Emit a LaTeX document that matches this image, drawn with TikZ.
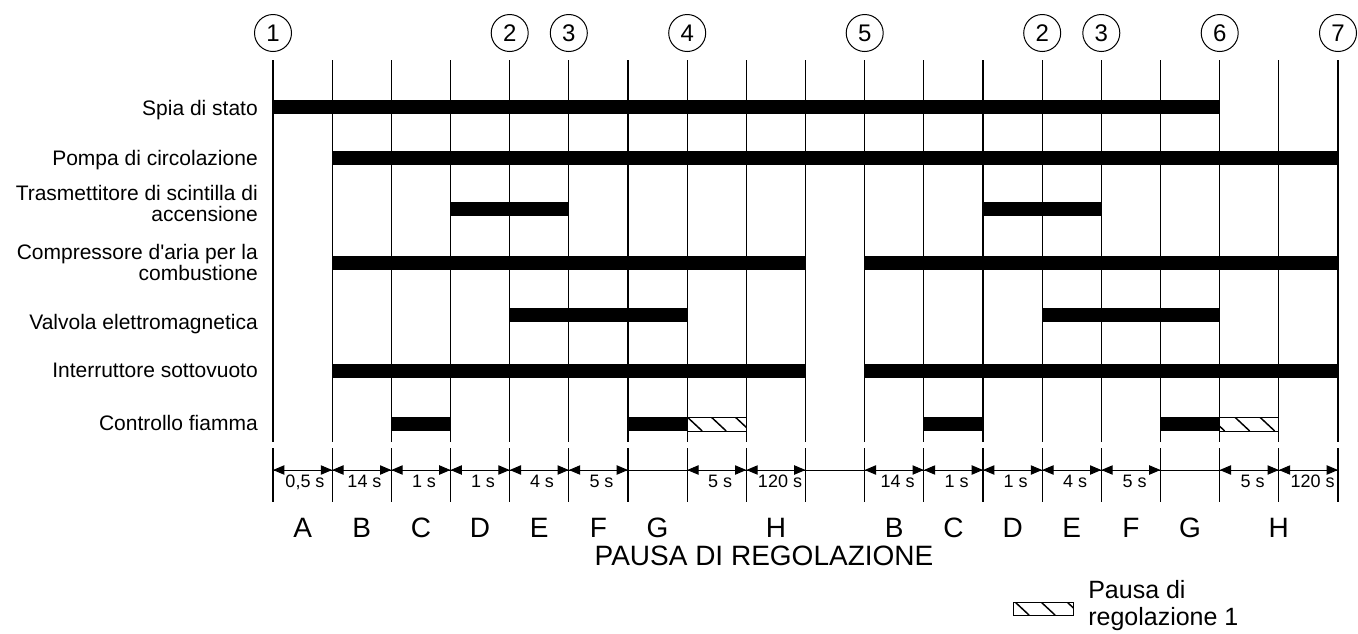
\documentclass[tikz,border=0pt]{standalone}
\usepackage{fontspec}
\setmainfont{Liberation Sans}
\usetikzlibrary{arrows.meta}

\begin{document}
\begin{tikzpicture}[x=0.75pt,y=-0.75pt,every node/.style={inner sep=0pt},
  rowlabel/.style={anchor=base east,align=right,font=\fontsize{15.75}{15.75}\selectfont},
  numcircle/.style={draw,circle,line width=.75pt,minimum size=27.75pt,font=\fontsize{18}{18}\selectfont},
  dur/.style={anchor=base,font=\fontsize{13.5}{13.5}\selectfont},
  phase/.style={anchor=base,font=\fontsize{21}{21}\selectfont},
  onbar/.style={line width=10.5pt},
  hatch/.style={line width=1.1pt},
  dim/.style={line width=.75pt,{Triangle[length=8.5pt,width=7pt]}-{Triangle[length=8.5pt,width=7pt]}}]
\useasboundingbox (0,0) rectangle (1358,633);
% time grid
\foreach \i in {0,...,18}{
  \coordinate (t\i) at ({273+59.1667*\i},60);
  \coordinate (m\i) at ({273+59.1667*\i},442);
  \coordinate (u\i) at ({273+59.1667*\i},448);
  \coordinate (b\i) at ({273+59.1667*\i},502);
  \coordinate (d\i) at ({273+59.1667*\i},470);
  \draw[line width=.9pt] (t\i)--(m\i) (u\i)--(b\i);
}
\coordinate (r1) at (0,107);
\coordinate (r2) at (0,158);
\coordinate (r3) at (0,208.5);
\coordinate (r4) at (0,263);
\coordinate (r5) at (0,315);
\coordinate (r6) at (0,370.5);
\coordinate (r7) at (0,424);
% switching states
\draw[onbar] (t0|-r1)--(t16|-r1);
\draw[onbar] (t1|-r2)--(t18|-r2);
\draw[onbar] (t3|-r3)--(t5|-r3); \draw[onbar] (t12|-r3)--(t14|-r3);
\draw[onbar] (t1|-r4)--(t9|-r4); \draw[onbar] (t10|-r4)--(t18|-r4);
\draw[onbar] (t4|-r5)--(t7|-r5); \draw[onbar] (t13|-r5)--(t16|-r5);
\draw[onbar] (t1|-r6)--(t9|-r6); \draw[onbar] (t10|-r6)--(t18|-r6);
\draw[onbar] (t2|-r7)--(t3|-r7); \draw[onbar] (t6|-r7)--(t7|-r7);
\draw[onbar] (t11|-r7)--(t12|-r7); \draw[onbar] (t15|-r7)--(t16|-r7);
% hatched pauses
\begin{scope}
\clip (687.2,417) rectangle (746.3,431);
\foreach \o in {0,24,48} \draw[hatch] (687.2+\o,417)--++(15,14);
\end{scope}
\draw[line width=.75pt] (687.2,417) rectangle (746.3,431);
\begin{scope}
\clip (1219.7,417) rectangle (1278.8,431);
\foreach \o in {-10,15,40} \draw[hatch] (1219.7+\o,417)--++(15,14);
\end{scope}
\draw[line width=.75pt] (1219.7,417) rectangle (1278.8,431);
\begin{scope}
\clip (1013,602) rectangle (1073,615);
\foreach \o in {2,28,54} \draw[hatch] (1013+\o,602)--++(14,13);
\end{scope}
\draw[line width=.75pt] (1013,602) rectangle (1073,615);
% row labels
\node[rowlabel] (spia) at (258,115) {Spia di stato};
\node[rowlabel] (pompa) at (258,165) {Pompa di circolazione};
\node[rowlabel] (trasm) at (258,221) {Trasmettitore di scintilla di\\accensione};
\node[rowlabel] (compr) at (258,280) {Compressore d\textquotesingle aria per la\\combustione};
\node[rowlabel] (valv) at (258,329) {Valvola elettromagnetica};
\node[rowlabel] (interr) at (258,377) {Interruttore sottovuoto};
\node[rowlabel] (fiamma) at (258,430) {Controllo fiamma};
% events
\node[numcircle] (c1) at (273,33) {1};
\node[numcircle] (c2a) at (509.7,33) {2};
\node[numcircle] (c3a) at (568.8,33) {3};
\node[numcircle] (c4) at (687.2,33) {4};
\node[numcircle] (c5) at (864.7,33) {5};
\node[numcircle] (c2b) at (1042.2,33) {2};
\node[numcircle] (c3b) at (1101.3,33) {3};
\node[numcircle] (c6) at (1219.7,33) {6};
\node[numcircle] (c7) at (1338,33) {7};
% durations
\draw[line width=.75pt] (d0)--(d18);
\foreach \a/\b in {0/1,1/2,2/3,3/4,4/5,5/6,7/8,8/9,10/11,11/12,12/13,13/14,14/15,16/17,17/18}
  \draw[dim] (d\a)--(d\b);
\node[dur] (s0) at (305,487) {0,5 s};
\node[dur] (s1) at (364.5,487) {14 s};
\node[dur] (s2) at (424,487) {1 s};
\node[dur] (s3) at (483,487) {1 s};
\node[dur] (s4) at (542,487) {4 s};
\node[dur] (s5) at (601.5,487) {5 s};
\node[dur] (s7) at (720,487) {5 s};
\node[dur] (s8) at (780,487) {120 s};
\node[dur] (s10) at (897.5,487) {14 s};
\node[dur] (s11) at (956.5,487) {1 s};
\node[dur] (s12) at (1015.5,487) {1 s};
\node[dur] (s13) at (1075,487) {4 s};
\node[dur] (s14) at (1134.5,487) {5 s};
\node[dur] (s16) at (1252.5,487) {5 s};
\node[dur] (s17) at (1312.5,487) {120 s};
% phases
\node[phase] (pA) at (302.6,537) {A};
\node[phase] (pB) at (361.8,537) {B};
\node[phase] (pC) at (420.9,537) {C};
\node[phase] (pD) at (480.1,537) {D};
\node[phase] (pE) at (539.3,537) {E};
\node[phase] (pF) at (598.4,537) {F};
\node[phase] (pG) at (657.6,537) {G};
\node[phase] (pH) at (776,537) {H};
\node[phase] (qB) at (894.3,537) {B};
\node[phase] (qC) at (953.4,537) {C};
\node[phase] (qD) at (1012.6,537) {D};
\node[phase] (qE) at (1071.8,537) {E};
\node[phase] (qF) at (1130.9,537) {F};
\node[phase] (qG) at (1190.1,537) {G};
\node[phase] (qH) at (1278.8,537) {H};
\node[phase] (pausa) at (764,565) {PAUSA DI REGOLAZIONE};
% legend
\node[anchor=base west,align=left,font=\fontsize{18.75}{20.25}\selectfont] (legend) at (1088,625) {Pausa di\\regolazione 1};
\end{tikzpicture}
\end{document}
